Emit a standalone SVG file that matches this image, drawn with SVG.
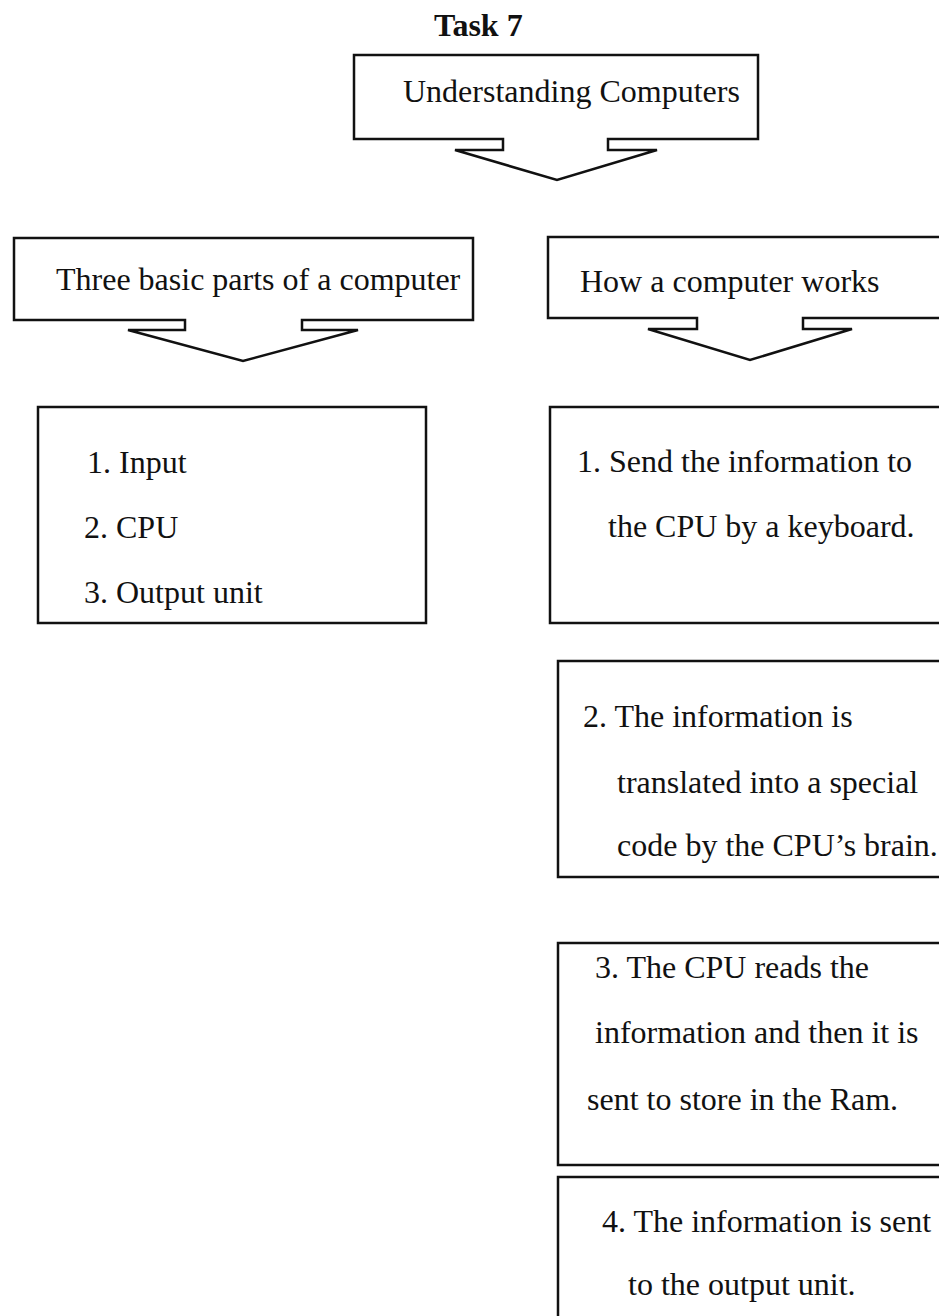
<svg xmlns="http://www.w3.org/2000/svg" width="939" height="1316" viewBox="0 0 939 1316">
<style>
  .box { fill: #ffffff; stroke: #111111; stroke-width: 2.5; stroke-linejoin: miter; }
  .t { font-family: "Liberation Serif", "Times New Roman", serif; font-size: 32px; fill: #111111; }
  .title { font-family: "Liberation Serif", "Times New Roman", serif; font-size: 32px; font-weight: bold; fill: #111111; }
</style>
<rect x="0" y="0" width="939" height="1316" fill="#ffffff"/>
<text class="title" x="434" y="36">Task 7</text>
<g id="connectors">
  <!-- block arrows are drawn as part of the callout nodes below -->
</g>
<g id="node-understanding">
  <path class="box" d="M354,55 H758 V139 H608 V150 H657 L557,180 L455,150 H503 V139 H354 Z"/>
  <text class="t" x="403" y="102">Understanding Computers</text>
</g>
<g id="node-three-parts">
  <path class="box" d="M14,238 H473 V320 H302 V330 H358 L243,361 L128,330 H185 V320 H14 Z"/>
  <text class="t" x="56" y="290">Three basic parts of a computer</text>
</g>
<g id="node-how-works">
  <path class="box" d="M548,237 H950 V318 H803 V329 H852 L750,360 L648,329 H697 V318 H548 Z"/>
  <text class="t" x="580" y="292">How a computer works</text>
</g>
<g id="node-parts-list">
  <rect class="box" x="38" y="407" width="388" height="216"/>
  <text class="t" x="87" y="473">1. Input</text>
  <text class="t" x="84" y="538">2. CPU</text>
  <text class="t" x="84" y="603">3. Output unit</text>
</g>
<g id="node-step1">
  <rect class="box" x="550" y="407" width="400" height="216"/>
  <text class="t" x="577" y="472">1. Send the information to</text>
  <text class="t" x="608" y="537">the CPU by a keyboard.</text>
</g>
<g id="node-step2">
  <rect class="box" x="558" y="661" width="392" height="216"/>
  <text class="t" x="583" y="727">2. The information is</text>
  <text class="t" x="617" y="793">translated into a special</text>
  <text class="t" x="617" y="856">code by the CPU’s brain.</text>
</g>
<g id="node-step3">
  <rect class="box" x="558" y="943" width="392" height="222"/>
  <text class="t" x="595" y="978">3. The CPU reads the</text>
  <text class="t" x="595" y="1043">information and then it is</text>
  <text class="t" x="587" y="1110">sent to store in the Ram.</text>
</g>
<g id="node-step4">
  <rect class="box" x="558" y="1177" width="392" height="160"/>
  <text class="t" x="602" y="1232">4. The information is sent</text>
  <text class="t" x="628" y="1295">to the output unit.</text>
</g>
</svg>
